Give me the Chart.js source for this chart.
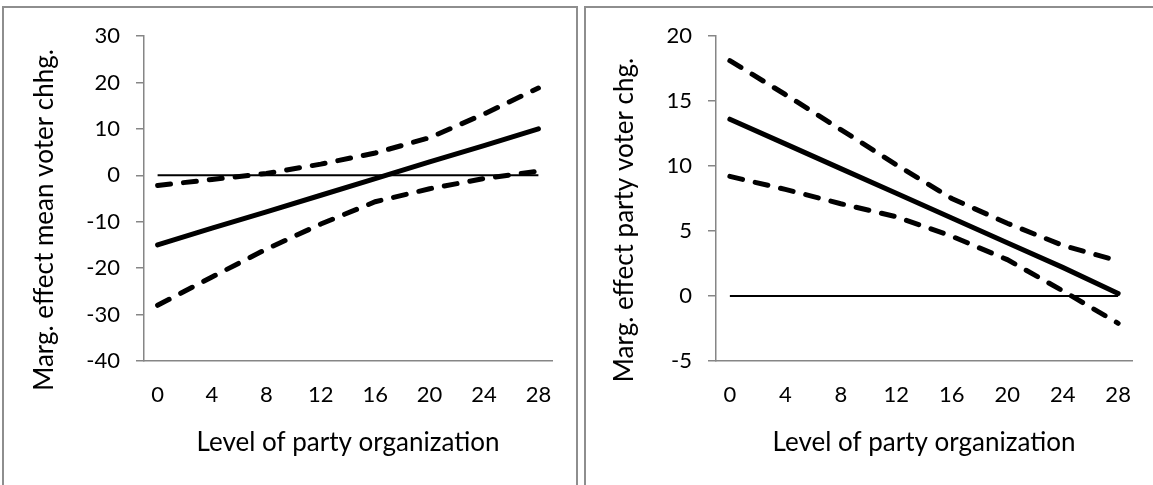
<!DOCTYPE html>
<html>
<head>
<meta charset="utf-8">
<script src="https://cdn.jsdelivr.net/npm/chart.js@4.4.0/dist/chart.umd.min.js"></script>
<style>
  body { margin: 0; background: #fff; width: 1153px; height: 485px; overflow: hidden; position: relative; }
  .panel { position: absolute; border: 2px solid #8e8e8e; box-sizing: border-box; }
  .box { position: absolute; top: 0; height: 485px; }
</style>
</head>
<body>
<div class="panel" style="left:2px;top:6px;width:576px;height:530px"></div>
<div class="panel" style="left:584px;top:6px;width:620px;height:530px"></div>
<div class="box" style="left:0;width:576px"><canvas id="mean"></canvas></div>
<div class="box" style="left:576px;width:577px"><canvas id="party"></canvas></div>
<script>
// level of party organization (x) and the tick labels shown
const xLevels = [0, 4, 8, 12, 16, 20, 24, 28];
const xTicks = [0, 4, 8, 12, 16, 20, 24, 28];

// left: marginal effect of mean voter change
const meanEffect = [-15.0, -11.4, -7.9, -4.3, -0.7, 2.9, 6.4, 10.0];
const meanUpper = [-2.2, -0.9, 0.4, 2.4, 4.8, 8.1, 13.2, 18.8];
const meanLower = [-28.0, -21.9, -15.9, -10.5, -5.7, -2.9, -0.7, 0.9];

// right: marginal effect of party voter change
const partyEffect = [13.6, 11.7, 9.8, 7.9, 6.0, 4.1, 2.2, 0.2];
const partyUpper = [18.1, 15.5, 12.8, 10.1, 7.5, 5.6, 3.9, 2.7];
const partyLower = [9.2, 8.2, 7.1, 6.1, 4.6, 2.8, 0.4, -2.1];

// reference line at zero
const zeroX = [0, 28];
const zeroY = [0, 0];

Chart.defaults.font.family = 'Lato';
Chart.defaults.color = '#000';

const pts = (xs, ys) => xs.map((x, i) => ({x: x, y: ys[i]}));

// vertical axis title, placed like the Excel original
const yTitle = {
    id: 'yTitle',
    afterDraw(chart, args, opts) {
        const c = chart.ctx;
        c.save();
        c.translate(opts.x, opts.y);
        c.rotate(-Math.PI / 2);
        c.font = opts.size + 'px Lato';
        c.fillStyle = '#000';
        c.textAlign = 'center';
        c.textBaseline = 'middle';
        c.fillText(opts.text, 0, 0);
        c.restore();
    }
};

function makeChart(id, effect, upper, lower, yMin, yMax, yStep, title, axisLeft, padRight, titleX) {
    const ctx = document.getElementById(id).getContext('2d');
    return new Chart(ctx, {
        type: 'line',
        data: {
            datasets: [
                {data: pts(zeroX, zeroY), borderColor: '#000', borderWidth: 2, pointRadius: 0},
                {data: pts(xLevels, upper), borderColor: '#000', borderWidth: 5, borderDash: [13, 13], borderCapStyle: 'round', pointRadius: 0},
                {data: pts(xLevels, lower), borderColor: '#000', borderWidth: 5, borderDash: [13, 13], borderCapStyle: 'round', pointRadius: 0},
                {data: pts(xLevels, effect), borderColor: '#000', borderWidth: 5, borderCapStyle: 'round', pointRadius: 0}
            ]
        },
        options: {
            responsive: true,
            maintainAspectRatio: false,
            animation: false,
            layout: {padding: {top: 36, right: padRight, left: 0, bottom: 0}},
            scales: {
                x: {
                    type: 'linear',
                    min: -1,
                    max: 29,
                    afterBuildTicks: s => { s.ticks = xTicks.map(v => ({value: v})); },
                    ticks: {padding: 21, font: {size: 22}},
                    grid: {drawOnChartArea: false, drawTicks: false},
                    border: {color: '#868686', width: 1.5},
                    title: {display: true, text: 'Level of party organization', font: {size: 26}, padding: {top: 0, bottom: 27}},
                    afterFit: s => { s.height = 124; }
                },
                y: {
                    min: yMin,
                    max: yMax,
                    ticks: {stepSize: yStep, padding: 16, font: {size: 22}},
                    grid: {drawOnChartArea: false, tickLength: 8, color: '#868686', lineWidth: 1.5},
                    border: {color: '#868686', width: 1.5},
                    afterFit: s => { s.width = axisLeft; }
                }
            },
            plugins: {
                legend: {display: false},
                tooltip: {enabled: false},
                yTitle: {text: title, x: titleX, y: 220, size: 26}
            }
        },
        plugins: [yTitle]
    });
}

makeChart('mean', meanEffect, meanUpper, meanLower, -40, 30, 10, 'Marg. effect mean voter chhg.', 144, 24, 45);
makeChart('party', partyEffect, partyUpper, partyLower, -5, 20, 5, 'Marg. effect party voter chg.', 140, 21, 49);
</script>
</body>
</html>
